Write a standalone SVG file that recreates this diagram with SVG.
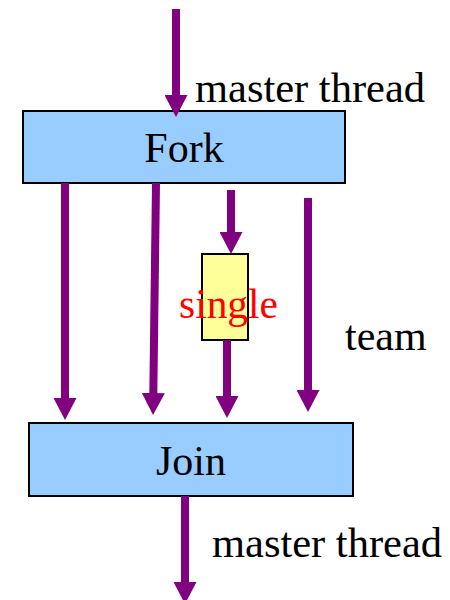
<svg xmlns="http://www.w3.org/2000/svg" width="450" height="600" viewBox="0 0 450 600">
<style>
  .box{fill:#99CCFF;stroke:#000;stroke-width:2}
  .sbox{fill:#FFFF99;stroke:#000;stroke-width:2}
  .t{font-family:"Liberation Serif","Times New Roman",serif;font-size:42px;fill:#000}
  .red{fill:#FF0000}
  .conn{stroke:#800080;stroke-width:8;fill:none;marker-end:url(#ah)}
</style>
<defs>
  <marker id="ah" markerUnits="userSpaceOnUse" viewBox="0 0 22 23" markerWidth="22" markerHeight="23" refX="2" refY="11.5" orient="auto">
    <path d="M0,0 L22,11.5 L0,23 z" fill="#800080"/>
  </marker>
</defs>
<g id="fork">
  <rect class="box" x="23" y="111" width="322" height="72"/>
  <text class="t" x="184" y="162" text-anchor="middle">Fork</text>
</g>
<g id="join">
  <rect class="box" x="29" y="423" width="324" height="73"/>
  <text class="t" x="191" y="475" text-anchor="middle">Join</text>
</g>
<g id="single">
  <rect class="sbox" x="202" y="254" width="46" height="86"/>
  <text class="t red" x="179" y="318" textLength="99" lengthAdjust="spacingAndGlyphs">single</text>
</g>
<g id="connectors">
  <line class="conn" x1="176" y1="9" x2="176" y2="97"/>
  <line class="conn" x1="65" y1="183" x2="65" y2="400"/>
  <line class="conn" x1="156" y1="183" x2="153.3" y2="395"/>
  <line class="conn" x1="231" y1="190" x2="231" y2="234"/>
  <line class="conn" x1="227" y1="340" x2="227" y2="398"/>
  <line class="conn" x1="308" y1="198" x2="308" y2="392"/>
  <line class="conn" x1="185" y1="496" x2="185" y2="584"/>
</g>
<g id="labels">
  <text class="t" x="195" y="102" textLength="230" lengthAdjust="spacingAndGlyphs">master thread</text>
  <text class="t" x="345" y="350">team</text>
  <text class="t" x="212" y="557" textLength="230" lengthAdjust="spacingAndGlyphs">master thread</text>
</g>
</svg>
